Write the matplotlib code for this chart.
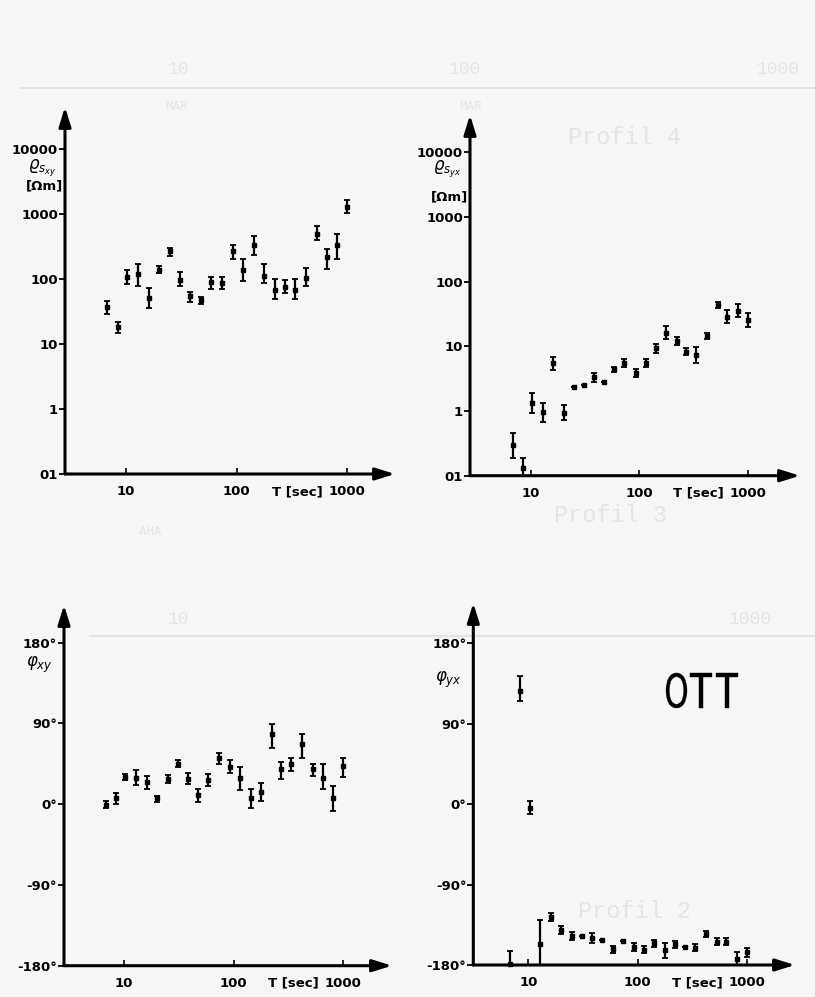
import numpy as np
import matplotlib.pyplot as plt
from matplotlib.ticker import NullLocator
from matplotlib.textpath import TextPath
from matplotlib.patches import PathPatch
from matplotlib.font_manager import FontProperties
from matplotlib.transforms import Affine2D

# periods T (sec), the same 24 for all four panels
period = [6.8, 8.4, 10.3, 12.9, 16.1, 20.0, 25.0, 30.8, 38.1, 47.6, 59.0, 73.1,
          93.2, 115, 143, 178, 222, 273, 336, 423, 529, 650, 812, 1000]

# apparent resistivity rho_s,xy [Ohm m] with error bar limits
rho_xy = [37, 18, 107, 120, 51, 139, 265, 97, 54, 47, 91, 87,
          265, 139, 336, 113, 68, 75, 68, 103, 497, 217, 336, 1280]
rho_xy_hi = [46, 22, 138, 171, 72, 156, 299, 128, 64, 52, 109, 107,
             336, 202, 452, 171, 100, 97, 100, 147, 644, 288, 497, 1660]
rho_xy_lo = [29, 14.7, 84, 78, 36, 123, 229, 78, 44, 41.5, 71, 70,
             205, 92, 230, 86, 50, 60, 49, 77, 392, 144, 205, 1030]

# apparent resistivity rho_s,yx [Ohm m]
rho_yx = [0.30, 0.13, 1.32, 0.98, 5.5, 0.92, 2.33, 2.53, 3.4, 2.8, 4.4, 5.6,
          3.9, 5.6, 9.5, 16, 12.3, 8.3, 7.4, 14.5, 43.8, 28.9, 35.8, 25.7]
rho_yx_hi = [0.45, 0.186, 1.88, 1.35, 6.95, 1.24, 2.33, 2.53, 3.84, 2.8, 4.75, 6.3,
             4.43, 6.3, 10.9, 20.7, 13.8, 9.35, 9.9, 16.0, 49.4, 36.6, 45.4, 32.6]
rho_yx_lo = [0.185, 0.10, 0.94, 0.685, 4.33, 0.73, 2.33, 2.53, 2.85, 2.8, 4.07, 4.87,
             3.41, 4.87, 8.0, 12.9, 10.5, 7.4, 5.5, 12.9, 39.9, 22.8, 28.9, 20.3]

# phase phi_xy [deg]
phi_xy = [-0.7, 6.7, 30.7, 29.6, 24.8, 6.7, 28.5, 45.2, 28.5, 10, 27, 51.9,
          41.9, 29.6, 7.4, 14, 77.8, 38.9, 44.4, 66.7, 38.9, 29.6, 7.4, 42.6]
phi_xy_hi = [3.7, 13, 34, 37.8, 31.5, 9.3, 32, 49, 34.4, 16.7, 34, 57.4,
             49, 41.9, 16.7, 24, 89.6, 47.4, 51.9, 78.5, 44.4, 44.4, 20.4, 51.9]
phi_xy_lo = [-4.4, 0, 27, 21.1, 16.7, 3, 24, 41.5, 23, 3, 20.4, 44.4,
             34.4, 16, -4.4, 3.7, 63, 27.8, 37, 51.9, 31.5, 16.7, -7.4, 30.7]

# phase phi_yx [deg]
phi_yx = [-179, 127, -4.5, -156, -125.9, -140.8, -147.5, -147, -150, -152, -162.5, -153,
          -159.4, -163, -155.7, -163, -156.8, -159.4, -160.6, -145.6, -153.9, -153.9, -173.3, -166]
phi_yx_hi = [-164, 143, 3.7, -130, -122, -136, -143.5, -147, -144.5, -152, -159, -153,
             -155.7, -159, -152, -155.7, -153, -159.4, -157, -142.5, -150, -150, -165, -161]
phi_yx_lo = [-180, 115, -11, -180, -130.7, -145.6, -151.5, -147, -155.7, -152, -167, -153,
             -164.3, -167, -159.7, -171.8, -160.5, -159.4, -164.3, -149, -158, -158, -180, -170.6]

rho_ticks = [0.1, 1, 10, 100, 1000, 10000]
rho_labels = ["01", "1", "10", "100", "1000", "10000"]
phi_ticks = [-180, -90, 0, 90, 180]
phi_labels = ["-180°", "-90°", "0°", "90°", "180°"]
x_ticks = [10, 100, 1000]
x_labels = ["10", "100", "1000"]

W, H = 815, 997
BG = "#f6f6f4"
GHOST = "#e3e3e1"   # faint show-through from the next page of the scan
FONT = dict(family="DejaVu Sans", weight="bold", size=9.5)


def rect(x0, x1, top, bot):
    return [x0 / W, (H - bot) / H, (x1 - x0) / W, (bot - top) / H]


def panel(fig, r, xlim, ylim, log_y, val, lo, hi, yticks, ylabels):
    ax = fig.add_axes(r)
    ax.set_facecolor("none")
    ax.set_xscale("log")
    if log_y:
        ax.set_yscale("log")
    ax.set_xlim(*xlim)
    ax.set_ylim(*ylim)
    for s in ax.spines.values():
        s.set_visible(False)

    # axes drawn as arrows, like the hand-drawn original
    arr = dict(arrowstyle="-|>,head_length=0.9,head_width=0.28", lw=2.2,
               color="k", mutation_scale=13, shrinkA=0, shrinkB=0)
    ax.annotate("", xy=(1, 0), xytext=(0, 0), xycoords="axes fraction", arrowprops=arr)
    ax.annotate("", xy=(0, 1), xytext=(0, 0), xycoords="axes fraction", arrowprops=arr)

    ax.xaxis.set_minor_locator(NullLocator())
    ax.yaxis.set_minor_locator(NullLocator())
    ax.set_xticks(x_ticks, x_labels, **FONT)
    ax.set_yticks(yticks, ylabels, **FONT)
    ax.tick_params(axis="x", direction="in", length=4, width=1.2, pad=8)
    ax.tick_params(axis="y", direction="out", length=4, width=1.3, pad=1)

    v = np.array(val, dtype=float)
    err = [v - np.array(lo, dtype=float), np.array(hi, dtype=float) - v]
    ax.errorbar(period, v, yerr=err, fmt="s", ms=3.2, color="k", ecolor="k",
                elinewidth=1.6, capsize=2.2, capthick=1.3, clip_on=False, zorder=3)

    ax.annotate("T [sec]", xy=(350, 0), xycoords=("data", "axes fraction"),
                xytext=(0, -8), textcoords="offset points", ha="center", va="top", **FONT)
    return ax


fig = plt.figure(figsize=(W / 100, H / 100), dpi=100, facecolor=BG)

# faint bleed-through of the following page
ghost = dict(color=GHOST, family="Liberation Mono", zorder=0)
for txt, gx, gy, fs in [("Profil 4", 625, 137, 17), ("Profil 3", 610, 515, 17),
                        ("Profil 2", 635, 912, 17), ("10", 178, 70, 13),
                        ("100", 465, 70, 13), ("1000", 778, 70, 13),
                        ("MAR", 176, 107, 9), ("MAR", 470, 107, 9),
                        ("AHA", 150, 532, 9), ("10", 178, 620, 13),
                        ("1000", 750, 620, 13)]:
    fig.text(gx / W, 1 - gy / H, txt, ha="center", va="center", fontsize=fs, **ghost)
fig.add_artist(plt.Line2D([20 / W, 1], [1 - 88 / H, 1 - 88 / H], color=GHOST, lw=1.5, zorder=0))
fig.add_artist(plt.Line2D([90 / W, 1], [1 - 636 / H, 1 - 636 / H], color=GHOST, lw=1.5, zorder=0))

ax1 = panel(fig, rect(65, 395, 107, 474), (2.81, 2690), (0.1, 44300), True,
            rho_xy, rho_xy_lo, rho_xy_hi, rho_ticks, rho_labels)
ax1.annotate(r"$\varrho_{s_{xy}}$", xy=(0, 5100), xycoords=("axes fraction", "data"),
             xytext=(-6, 0), textcoords="offset points", ha="right", va="center",
             fontsize=12, fontweight="bold")
ax1.annotate("[Ωm]", xy=(0, 2700), xycoords=("axes fraction", "data"),
             xytext=(-1, 0), textcoords="offset points", ha="right", va="center", **FONT)

ax2 = panel(fig, rect(470, 800, 115, 475.7), (2.74, 3050), (0.1, 38000), True,
            rho_yx, rho_yx_lo, rho_yx_hi, rho_ticks, rho_labels)
ax2.annotate(r"$\varrho_{s_{yx}}$", xy=(0, 5400), xycoords=("axes fraction", "data"),
             xytext=(-6, 0), textcoords="offset points", ha="right", va="center",
             fontsize=12, fontweight="bold")
ax2.annotate("[Ωm]", xy=(0, 2050), xycoords=("axes fraction", "data"),
             xytext=(-1, 0), textcoords="offset points", ha="right", va="center", **FONT)

ax3 = panel(fig, rect(64, 392, 605, 965.7), (2.84, 2780), (-180, 222), False,
            phi_xy, phi_xy_lo, phi_xy_hi, phi_ticks, phi_labels)
ax3.annotate(r"$\varphi_{xy}$", xy=(0, 155), xycoords=("axes fraction", "data"),
             xytext=(-8, 0), textcoords="offset points", ha="right", va="center",
             fontsize=12, fontweight="bold")

ax4 = panel(fig, rect(473.3, 795, 603, 965), (3.13, 2770), (-180, 225), False,
            phi_yx, phi_yx_lo, phi_yx_hi, phi_ticks, phi_labels)
ax4.annotate(r"$\varphi_{yx}$", xy=(0, 139), xycoords=("axes fraction", "data"),
             xytext=(-8, 0), textcoords="offset points", ha="right", va="center",
             fontsize=12, fontweight="bold")

# station name in narrow lettering: each letter squeezed into its own box
fp = FontProperties(family="DejaVu Sans")
for ch, lx, lw_px in [("O", 666, 21), ("T", 690, 22), ("T", 716, 22)]:
    tp = TextPath((0, 0), ch, size=100, prop=fp)
    ext = tp.get_extents()
    tr = (Affine2D().translate(-ext.x0, -ext.y0)
          .scale(lw_px / ext.width, 35 / ext.height)
          .translate(lx, H - 708).scale(1 / 100) + fig.dpi_scale_trans)
    fig.add_artist(PathPatch(tp, transform=tr, facecolor="k", edgecolor="k", lw=0.3))

fig.savefig("out.png", dpi=100, facecolor=BG)
